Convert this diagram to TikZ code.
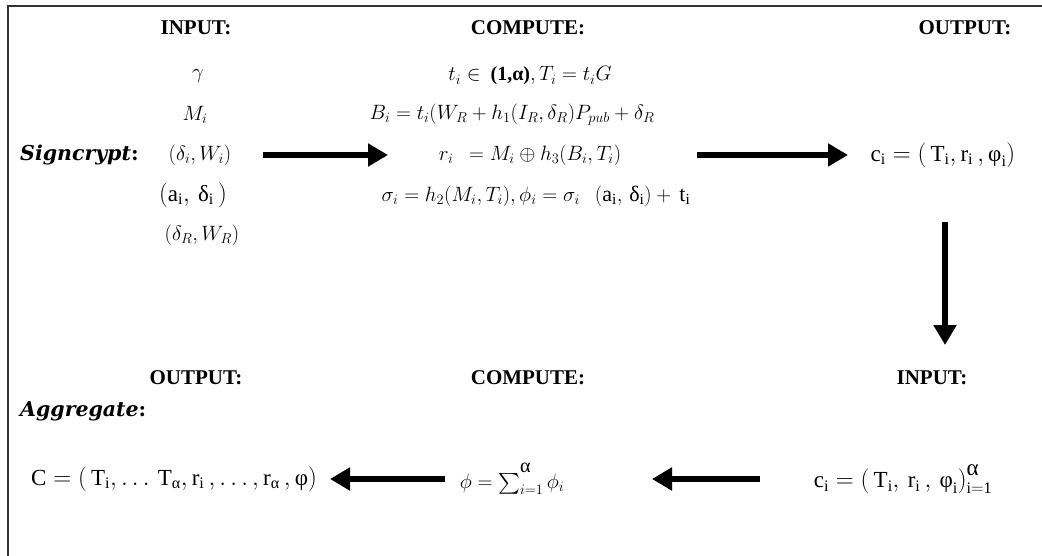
\documentclass[tikz,border=0pt]{standalone}
\usepackage{amsmath}
\usepackage{fontspec}
\setmainfont{Liberation Serif}
\newfontfamily\lblfont{DejaVu Serif}
\usetikzlibrary{arrows.meta}
\newcommand{\ut}[1]{\text{#1}}
\begin{document}
\begin{tikzpicture}[x=1pt,y=-1pt,
  lbl/.style={inner sep=0pt, font=\fontsize{20}{24}\selectfont},
  up/.style={inner sep=0pt, font=\fontsize{23}{27}\selectfont},
  head/.style={inner sep=0pt, font=\fontsize{21}{25}\selectfont\bfseries},
  side/.style={inner sep=0pt, anchor=west, font=\fontsize{20.5}{24}\selectfont\lblfont\bfseries\itshape},
  arr/.style={line width=6pt, -{Triangle[width=22pt,length=20pt]}},
  frame/.style={line width=1.3pt, draw=black!80}]
\useasboundingbox (0,0) rectangle (1042,556);
\draw[frame] (1042,6) -- (8,6) -- (8,556);
% top row headers
\node[head] (h1) at (196,28) {INPUT:};
\node[head] (h2) at (528,28) {COMPUTE:};
\node[head] (h3) at (965,28) {OUTPUT:};
% inputs
\node[lbl] (gam) at (198,76) {$\gamma$};
\node[lbl] (Mi) at (195,115) {$M_i$};
\node[side] (sc) at (20,155) {Signcrypt\textup{:}};
\node[lbl] (dW) at (200,155) {$(\delta_i, W_i)$};
\node[up] (ad) at (193,195) {$(\mathrm{a}_\mathrm{i},\, \ut{δ}_\mathrm{i}\,)$};
\node[lbl] (dR) at (202,235) {$(\delta_R, W_R)$};
% compute
\node[lbl] (c1) at (530,76) {$t_i \in$\ \ \textbf{(1,α)}$, T_i = t_i G$};
\node[lbl] (c2) at (512,115) {$B_i = t_i(W_R + h_1(I_R, \delta_R)P_{pub} + \delta_R$};
\node[lbl] (c3) at (530,155) {$r_i\ \ = M_i \oplus h_3(B_i, T_i)$};
\node[lbl] (c4) at (536,196) {$\sigma_i = h_2(M_i, T_i), \phi_i = \sigma_i$\ \ \ {\fontsize{22}{26}\selectfont$(\mathrm{a}_\mathrm{i},\, \ut{δ}_\mathrm{i}) + \,\mathrm{t}_\mathrm{i}$}};
% output
\node[up] (ci) at (943,155) {$\mathrm{c}_\mathrm{i} = (\,\mathrm{T}_\mathrm{i}, \mathrm{r}_\mathrm{i}\,, \ut{φ}_\mathrm{i})$};
% bottom row headers
\node[head] (b1) at (196,378) {OUTPUT:};
\node[head] (b2) at (528,378) {COMPUTE:};
\node[head] (b3) at (932,378) {INPUT:};
\node[side] (ag) at (20,411) {Aggregate\textup{:}};
\node[up] (C) at (174,479) {$\mathrm{C} = (\,\mathrm{T}_\mathrm{i},\ldots\,\mathrm{T}_{\ut{α}}, \mathrm{r}_\mathrm{i}\,,\ldots, \mathrm{r}_{\ut{α}}\,, \ut{φ})$};
\node[lbl] (phi) at (512,479) {$\phi = \sum\nolimits_{i=1}^{\raisebox{6pt}{\ut{α}}} \phi_i$};
\node[up] (cin) at (903,479) {$\mathrm{c}_\mathrm{i} = (\,\mathrm{T}_\mathrm{i},\, \mathrm{r}_\mathrm{i}\,,\, \ut{φ}_\mathrm{i})_{\mathrm{i=1}}^{\raisebox{3pt}{\ut{α}}}$};
% arrow end points
\coordinate (a1s) at (263,155); \coordinate (a1e) at (388,155);
\coordinate (a2s) at (697,155); \coordinate (a2e) at (848,155);
\coordinate (a3s) at (945,222); \coordinate (a3e) at (945,345);
\coordinate (a4s) at (445,479); \coordinate (a4e) at (330,479);
\coordinate (a5s) at (760,479); \coordinate (a5e) at (652,479);
\draw[arr] (a1s) -- (a1e);
\draw[arr] (a2s) -- (a2e);
\draw[arr] (a3s) -- (a3e);
\draw[arr] (a4s) -- (a4e);
\draw[arr] (a5s) -- (a5e);
\end{tikzpicture}
\end{document}
